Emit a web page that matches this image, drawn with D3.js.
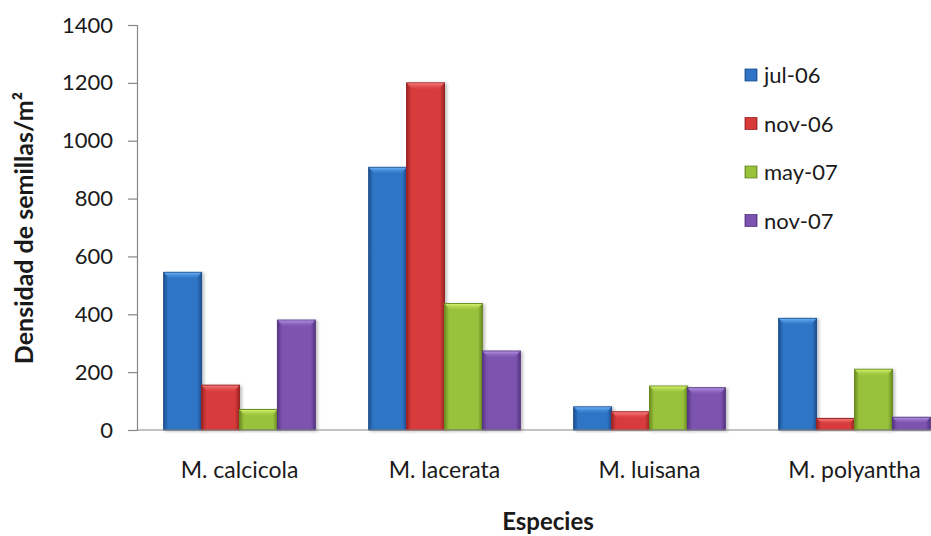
<!DOCTYPE html>
<html>
<head>
<meta charset="utf-8">
<script src="https://cdn.jsdelivr.net/npm/d3@7"></script>
<style>
  html, body { margin: 0; padding: 0; background: #fff; }
  svg { display: block; }
  text { font-family: Lato, "Open Sans", sans-serif; fill: #1a1a1a; }
</style>
</head>
<body>
<svg id="chart" width="931" height="536"></svg>
<script>
// Seed density per species for each sampling date
const species = ["M. calcicola", "M. lacerata", "M. luisana", "M. polyantha"];
const dates = ["jul-06", "nov-06", "may-07", "nov-07"];
const jul06 = [545, 908, 80, 386];
const nov06 = [155, 1200, 63, 40];
const may07 = [71, 437, 152, 210];
const nov07 = [380, 273, 146, 44];
const yTicks = [0, 200, 400, 600, 800, 1000, 1200, 1400];

const series = [jul06, nov06, may07, nov07];
const colors = [
  { base: "#2f74c6", light: "#66aef5", dark: "#1d4f8e" },
  { base: "#d83a3a", light: "#f57a7a", dark: "#9a2424" },
  { base: "#98c23a", light: "#d2ef6a", dark: "#6a8a22" },
  { base: "#7d52b0", light: "#b08fe0", dark: "#553683" }
];

const svg = d3.select("#chart");
const plotLeft = 137, plotRight = 957, plotTop = 25, plotBottom = 430;

const x0 = d3.scaleBand().domain(species).range([plotLeft, plotRight]).paddingInner(0.26).paddingOuter(0.13);
const x1 = d3.scaleBand().domain(dates).range([0, x0.bandwidth()]).padding(0);
const y = d3.scaleLinear().domain([0, 1400]).range([plotBottom, plotTop]);

// Gradients for the bevelled bar look
const defs = svg.append("defs");
colors.forEach((c, i) => {
  const g = defs.append("linearGradient").attr("id", "g" + i)
    .attr("x1", "0").attr("x2", "1").attr("y1", "0").attr("y2", "0");
  g.append("stop").attr("offset", "0").attr("stop-color", c.dark);
  g.append("stop").attr("offset", "0.12").attr("stop-color", c.base);
  g.append("stop").attr("offset", "0.5").attr("stop-color", c.base);
  g.append("stop").attr("offset", "0.88").attr("stop-color", c.base);
  g.append("stop").attr("offset", "1").attr("stop-color", c.dark);
  const h = defs.append("linearGradient").attr("id", "h" + i)
    .attr("x1", "0").attr("x2", "0").attr("y1", "0").attr("y2", "1");
  h.append("stop").attr("offset", "0").attr("stop-color", c.light).attr("stop-opacity", 1);
  h.append("stop").attr("offset", "1").attr("stop-color", c.base).attr("stop-opacity", 0.3);
});
const sh = defs.append("filter").attr("id", "shadow").attr("x", "-20%").attr("y", "-5%").attr("width", "150%").attr("height", "115%");
sh.append("feDropShadow").attr("dx", 2).attr("dy", 1).attr("stdDeviation", 1.5).attr("flood-color", "#000").attr("flood-opacity", 0.25);

// Y axis
const yAxis = d3.axisLeft(y).tickValues(yTicks).tickFormat(d3.format("d")).tickSize(9).tickPadding(15);
const ya = svg.append("g").attr("transform", `translate(${plotLeft},0)`).call(yAxis);
ya.select(".domain").attr("stroke", "#868686").attr("stroke-width", 1.2);
ya.selectAll(".tick line").attr("stroke", "#868686").attr("stroke-width", 1.2);
ya.selectAll(".tick text").style("font-size", "22px").style("font-family", "Lato, 'Open Sans', sans-serif").attr("fill", "#1a1a1a");

// Bars
const groups = svg.append("g").selectAll("g").data(species).join("g")
  .attr("transform", d => `translate(${x0(d)},0)`);

dates.forEach((dt, si) => {
  groups.each(function(sp, ci) {
    const v = series[si][ci];
    const g = d3.select(this);
    const bx = x1(dt), bw = x1.bandwidth();
    const by = y(v), bh = y(0) - y(v);
    g.append("rect").attr("x", bx).attr("y", by).attr("width", bw).attr("height", bh)
      .attr("fill", `url(#g${si})`).attr("stroke", colors[si].dark).attr("stroke-width", 1)
      .attr("filter", "url(#shadow)");
    // top bevel highlight
    const bev = Math.min(7, bh / 2);
    g.append("path")
      .attr("d", `M${bx + 0.5},${by + 0.5} L${bx + bw - 0.5},${by + 0.5} L${bx + bw - 6},${by + bev} L${bx + 6},${by + bev} Z`)
      .attr("fill", `url(#h${si})`);
  });
});

// X axis baseline (drawn across the full width)
svg.append("line").attr("x1", plotLeft).attr("x2", 931).attr("y1", y(0)).attr("y2", y(0))
  .attr("stroke", "#868686").attr("stroke-width", 1.2);

// Category labels
svg.append("g").selectAll("text").data(species).join("text")
  .attr("x", d => x0(d) + x0.bandwidth() / 2).attr("y", 478)
  .attr("text-anchor", "middle").style("font-size", "23px").text(d => d);

// Axis titles
svg.append("text").attr("x", 548).attr("y", 530).attr("text-anchor", "middle")
  .style("font-size", "24px").style("font-weight", "bold").text("Especies");
svg.append("text").attr("transform", "translate(33,228) rotate(-90)").attr("text-anchor", "middle")
  .style("font-size", "25px").style("font-weight", "bold").text("Densidad de semillas/m²");

// Legend
const legend = svg.append("g").selectAll("g").data(dates).join("g")
  .attr("transform", (d, i) => `translate(745,${75 + i * 48.5})`);
legend.append("rect").attr("x", 0).attr("y", -6).attr("width", 12).attr("height", 12)
  .attr("fill", (d, i) => `url(#g${i})`).attr("stroke", (d, i) => colors[i].dark).attr("stroke-width", 0.8);
legend.append("text").attr("x", 19).attr("y", 8).style("font-size", "22px").text(d => d);
</script>
</body>
</html>
